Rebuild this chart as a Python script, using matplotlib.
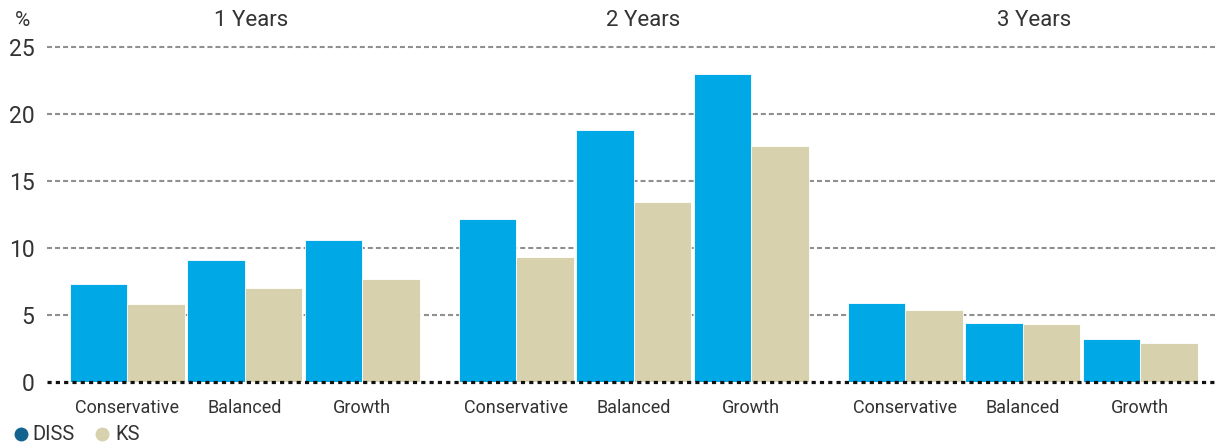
import matplotlib
matplotlib.use("Agg")
import matplotlib.pyplot as plt
from matplotlib.lines import Line2D
import numpy as np

plt.rcParams['font.family'] = ['Roboto', 'DejaVu Sans']
plt.rcParams['font.weight'] = 'normal'

periods = ["1 Years", "2 Years", "3 Years"]
categories = ["Conservative", "Balanced", "Growth"]
diss = [[7.3, 9.1, 10.6], [12.2, 18.8, 23.0], [5.9, 4.4, 3.2]]
ks = [[5.8, 7.0, 7.7], [9.3, 13.4, 17.6], [5.4, 4.3, 2.9]]
yticks = [0, 5, 10, 15, 20, 25]
series_names = ["DISS", "KS"]

c_diss = "#00A9E6"
c_ks = "#D8D1AD"
c_diss_leg = "#12648F"
c_text = "#333333"

W, H = 1217, 445
fig = plt.figure(figsize=(W / 100, H / 100), dpi=100)
ax = fig.add_axes([47 / W, (H - 382) / H, (W - 47) / W, (382 - 47) / H])

bar_w = 57.5 / 117.5
panel_step = 389 / 117.5
centers = []
labels = []
for p in range(len(periods)):
    for i in range(len(categories)):
        c = p * panel_step + i
        centers.append(c)
        labels.append(categories[i])
        ax.bar(c - bar_w / 2, diss[p][i], width=bar_w, color=c_diss, zorder=2,
               edgecolor="white", linewidth=0.6)
        ax.bar(c + bar_w / 2, ks[p][i], width=bar_w, color=c_ks, zorder=2,
               edgecolor="white", linewidth=0.6)

ax.set_xlim((47 - 127) / 117.5, (1217 - 127) / 117.5)
ax.set_ylim(0, 25)
for s in ax.spines.values():
    s.set_visible(False)

for y in yticks[1:]:
    ax.axhline(y, color="#8f8f8f", lw=1.5, ls=(0, (2.4, 1.45)), zorder=1, clip_on=False)
ax.axhline(0, color="#111111", lw=2.3, ls=(0, (1.3, 1.3)), zorder=3, clip_on=False)

ax.set_yticks(yticks)
ax.set_yticklabels([str(v) for v in yticks], fontsize=16.5, color=c_text)
ax.set_xticks(centers)
ax.set_xticklabels(labels, fontsize=13, color=c_text)
ax.tick_params(axis="both", length=0)
ax.tick_params(axis="y", pad=9)
ax.tick_params(axis="x", pad=12)

fig.text(22 / W, 1 - 21 / H, "%", fontsize=15, color=c_text, ha="center", va="center")
title_x = [251, 643, 1034]
for p, t in enumerate(periods):
    fig.text(title_x[p] / W, 1 - 21 / H, t, fontsize=16, color=c_text, ha="center", va="center")

leg_marker_x = [21, 102]
leg_text_x = [32, 115]
leg_colors = [c_diss_leg, c_ks]
for name, mx, tx, col in zip(series_names, leg_marker_x, leg_text_x, leg_colors):
    fig.add_artist(Line2D([mx / W], [1 - 434 / H], marker="o", ls="", markersize=9,
                          color=col, transform=fig.transFigure))
    fig.text(tx / W, 1 - 434 / H, name, fontsize=14.5, color=c_text, ha="left", va="center")

fig.savefig("out.png", dpi=100)
